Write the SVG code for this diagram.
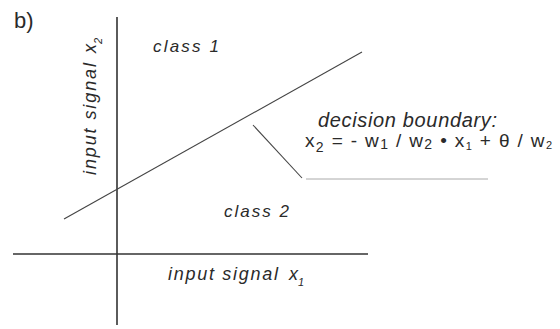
<svg xmlns="http://www.w3.org/2000/svg" width="560" height="329" viewBox="0 0 560 329">
<style>
.t{font-family:"Liberation Sans",Arial,sans-serif;fill:#2a2a2a}
.i{font-style:italic}
.ax{stroke:#333;stroke-width:1.6;fill:none}
.ln{stroke:#444;stroke-width:1.1;fill:none}
</style>
<rect width="560" height="329" fill="#fff"/>
<g id="connectors">
<line class="ax" x1="117" y1="17" x2="117" y2="325"/>
<line class="ax" x1="13" y1="254" x2="368" y2="254"/>
<line id="boundary" class="ln" x1="64" y1="219" x2="362" y2="52"/>
<line id="leader" class="ln" x1="253" y1="125" x2="302" y2="178"/>
<line id="underline" stroke="#aaa" stroke-width="1" x1="306" y1="179" x2="488" y2="179"/>
</g>
<g id="label-b"><text class="t" x="14" y="28" font-size="22" fill="#444">b)</text></g>
<g id="class1"><text class="t i" x="153" y="52" font-size="17" textLength="66" lengthAdjust="spacing">class 1</text></g>
<g id="class2"><text class="t i" x="224" y="217" font-size="17" textLength="65" lengthAdjust="spacing">class 2</text></g>
<g id="xaxis-label"><text class="t i" x="168" y="280" font-size="18"><tspan textLength="110" lengthAdjust="spacing">input signal</tspan><tspan x="289">x</tspan><tspan font-size="11" dy="6">1</tspan></text></g>
<g id="yaxis-label"><text class="t i" transform="translate(96,175) rotate(-90)" font-size="18"><tspan textLength="112" lengthAdjust="spacing">input signal</tspan><tspan x="122">x</tspan><tspan font-size="11" dy="6">2</tspan></text></g>
<g id="decision">
<text class="t i" x="318" y="127" font-size="20" textLength="179" lengthAdjust="spacing">decision boundary:</text>
<text class="t" x="305" y="147" font-size="19" textLength="247" lengthAdjust="spacing">x<tspan font-size="14" dy="5">2</tspan><tspan dy="-5"> = - w</tspan><tspan font-size="14" dy="2">1</tspan><tspan dy="-2"> / w</tspan><tspan font-size="14" dy="2">2</tspan><tspan dy="-2"> • x</tspan><tspan font-size="11" dy="3">1</tspan><tspan dy="-3"> + θ / w</tspan><tspan font-size="11" dy="2">2</tspan></text>
</g>
</svg>
